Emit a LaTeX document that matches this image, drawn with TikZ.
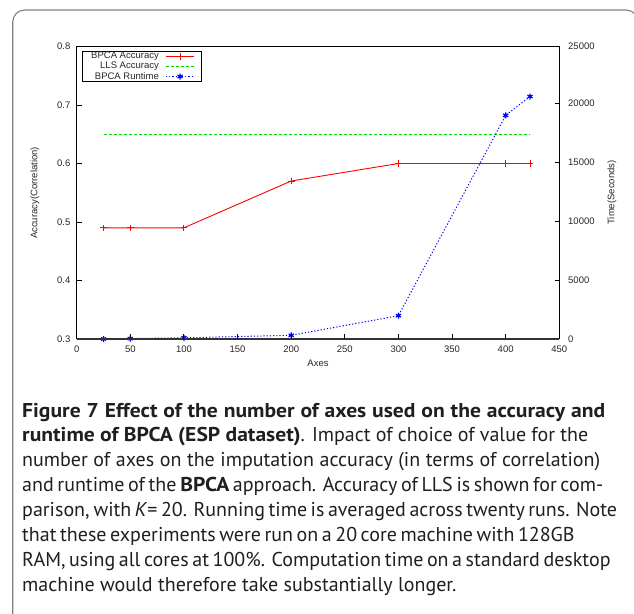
\documentclass[tikz,border=0pt]{standalone}
\usepackage{fontspec}
\setmainfont{Liberation Sans}
\newfontfamily\capfont{PT Sans}[BoldFeatures={FakeStretch=1.08}]
\usetikzlibrary{plotmarks}
\newcommand{\capline}[2]{\makebox[#1pt][s]{#2}}
\begin{document}
\begin{tikzpicture}[x=1pt,y=-1pt,
  ticklab/.style={font=\fontsize{9.5}{11}\selectfont, text=black!85, inner sep=0pt},
  frameline/.style={line width=1pt, black},
  tickmark/.style={line width=0.9pt, black},
  accline/.style={red, line width=0.9pt, mark=+, mark size=3.3pt, mark options={solid, line width=0.9pt}},
  llsline/.style={green!85!black, line width=0.9pt, dash pattern=on 3pt off 2pt},
  runline/.style={blue, line width=1pt, dash pattern=on 1.2pt off 2pt, mark=asterisk, mark size=3pt, mark options={solid, line width=1.2pt}},
  captext/.style={font=\capfont\fontsize{20}{25}\selectfont, text=black!88, inner sep=0pt, anchor=base west}
]
\useasboundingbox (0,0) rectangle (634,613);
% figure border
\draw[black!50, line width=1.1pt, rounded corners=12pt] (12.7,10) rectangle (638,625);

% data
\draw[llsline] (103.5,134.2) -- (530,134.2);
\draw[accline] plot coordinates {(103.5,227.8) (130.3,227.8) (183.9,227.8) (291.2,181) (398.4,163.5) (505.7,163.5) (530,163.5)};
\draw[runline] plot coordinates {(103.5,339) (130.3,338.6) (183.9,337.8) (291.2,335.3) (398.4,315.7) (505.7,115.3) (530,96.5)};

% frame
\draw[frameline] (76.7,339) -- (76.7,46.7) -- (559.3,46.7) -- (559.3,339);
\draw[line width=1.8pt, black!80] (76.7,339) -- (559.3,339);

% left ticks
\foreach \y in {105,163.5,222,280.5} \draw[tickmark] (76.7,\y) -- (81.5,\y);
% right ticks
\foreach \y in {103.6,162.4,221.3,280.1} \draw[tickmark] (554.5,\y) -- (559.3,\y);
% bottom ticks
\foreach \i in {1,...,8} \draw[tickmark] ({76.7+53.62*\i},339) -- ({76.7+53.62*\i},334);

% left labels
\foreach \v/\y in {0.3/339,0.4/280.5,0.5/222,0.6/163.5,0.7/105,0.8/46.7}
  \node[ticklab, anchor=east] (l\v) at (70.5,\y) {\v};
% right labels
\foreach \v/\y in {0/339,5000/280.1,10000/221.3,15000/162.4,20000/103.6,25000/46.7}
  \node[ticklab, anchor=west] (r\v) at (568,\y) {\v};
% bottom labels
\foreach \i in {0,...,9}
  \node[ticklab, anchor=north] (b\i) at ({76.7+53.62*\i},345.5) {\pgfmathparse{int(50*\i)}\pgfmathresult};

% axis titles
\node[ticklab, rotate=90] (ylab) at (35,193) {Accuracy(Correlation)};
\node[ticklab, rotate=90] (y2lab) at (612,192.5) {Time(Seconds)};
\node[ticklab] (xlab) at (318,363) {Axes};

% legend
\draw[line width=1pt, black] (82.7,51) rectangle (201,81);
\node[ticklab, anchor=east] (k1) at (159,56.5) {BPCA Accuracy};
\node[ticklab, anchor=east] (k2) at (159,66.5) {LLS Accuracy};
\node[ticklab, anchor=east] (k3) at (159,76.5) {BPCA Runtime};
\draw[accline, mark=none] (166,56.5) -- (194,56.5);
\draw[accline] plot coordinates {(180,56.5)};
\draw[llsline] (166,66.5) -- (194,66.5);
\draw[runline, mark=none] (166,76.5) -- (194,76.5);
\draw[runline] plot coordinates {(180,76.5)};

% caption
\node[captext] (cap1) at (22,417) {\capline{583}{\textbf{Figure 7 Effect of the number of axes used on the accuracy and}}};
\node[captext] (cap2) at (22,441.9) {\capline{566}{\textbf{runtime of BPCA (ESP dataset)}. Impact of choice of value for the}};
\node[captext] (cap3) at (22,466.7) {\capline{578}{number of axes on the imputation accuracy (in terms of correlation)}};
\node[captext] (cap4) at (22,491.6) {\capline{581}{and runtime of the \textbf{BPCA} approach. Accuracy of LLS is shown for com-}};
\node[captext] (cap5) at (22,516.4) {\capline{583}{parison, with \textit{K}= 20. Running time is averaged across twenty runs. Note}};
\node[captext] (cap6) at (22,541.3) {\capline{540}{that these experiments were run on a 20 core machine with 128GB}};
\node[captext] (cap7) at (22,566.1) {\capline{585}{RAM, using all cores at 100\%. Computation time on a standard desktop}};
\node[captext] (cap8) at (22,591) {machine would therefore take substantially longer.};
\end{tikzpicture}
\end{document}
